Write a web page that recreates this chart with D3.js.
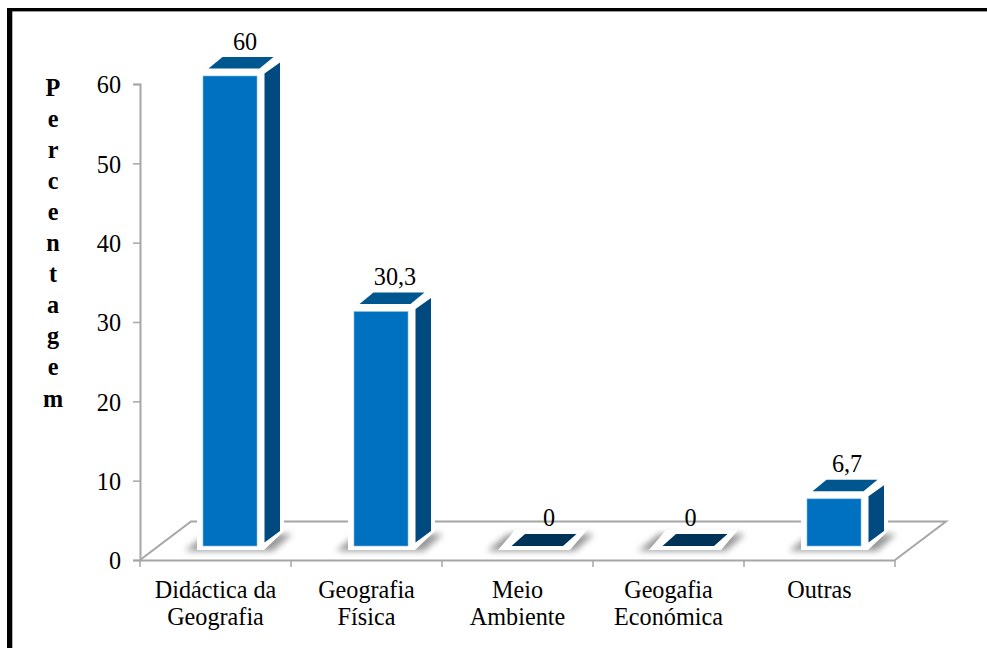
<!DOCTYPE html>
<html>
<head>
<meta charset="utf-8">
<script src="https://cdn.jsdelivr.net/npm/d3@7"></script>
<style>
html,body{margin:0;padding:0;background:#fff;}
svg{display:block;}
text{font-family:"Liberation Serif","Times New Roman",serif;fill:#000;}
</style>
</head>
<body>
<script>
// Survey shares by area of study
const categories = [["Didáctica da","Geografia"],["Geografia","Física"],["Meio","Ambiente"],["Geogafia","Económica"],["Outras"]];
const values = [60, 30.3, 0, 0, 6.7];
const valueLabels = ["60","30,3","0","0","6,7"];
const yTicks = [0,10,20,30,40,50,60];
const yTitle = "Percentagem".split("");

// Horizontal nudges keeping each value label clear of its bar
const labelShift = [1, 0, 3, -6.5, -1];

const width = 987, height = 648;
const fontSize = 24.2;
const svg = d3.select("body").append("svg").attr("width", width).attr("height", height);

const x = d3.scaleBand().domain(d3.range(categories.length)).range([140, 895]);
const y = d3.scaleLinear().domain([0, 60]).range([560, 84]);

const defs = svg.append("defs");
defs.append("filter").attr("id","soft").attr("x","-30%").attr("y","-80%").attr("width","160%").attr("height","260%")
  .append("feGaussianBlur").attr("stdDeviation", 3.4);

const grey = "#a6a6a6";
const frontFill = "#0070c0", sideFill = "#004a7f", topFill = "#00568f", flatFill = "#003358", edgeStroke = "#7fb8e0";

// Frame: heavier on the left than along the top
svg.append("rect").attr("x",7).attr("y",8).attr("width",width-7).attr("height",3.4).attr("fill","#000");
svg.append("rect").attr("x",7).attr("y",8).attr("width",5.3).attr("height",height-8).attr("fill","#000");

// Floor of the plot
const depthX = 51, depthY = 38.5;
const floorBackY = y(0) - depthY;
svg.append("path")
  .attr("d", `M${x.range()[0]},${y(0)}L${x.range()[0]+depthX},${floorBackY}H${x.range()[1]+depthX}L${x.range()[1]},${y(0)}`)
  .attr("fill","#fff").attr("stroke",grey).attr("stroke-width",2);

// Axes
const yAxis = d3.axisLeft(y).tickValues(yTicks).tickSize(7).tickPadding(12);
const gy = svg.append("g").attr("transform",`translate(${x.range()[0]},0)`).call(yAxis);
const xAxis = d3.axisBottom(x).tickSize(0).tickFormat("");
const gx = svg.append("g").attr("transform",`translate(0,${y(0)})`).call(xAxis);
gx.selectAll(".tick").remove();
[gy, gx].forEach(g => { g.select(".domain").attr("stroke",grey).attr("stroke-width",2);
  g.selectAll(".tick line").attr("stroke",grey).attr("stroke-width",1.5); });
gy.selectAll(".tick text").attr("font-size",fontSize).attr("fill","#000").attr("y",1)
  .style("font-family",'"Liberation Serif",serif');

// Category boundary ticks along the front edge
svg.append("g").selectAll("line").data(d3.range(categories.length + 1)).join("line")
  .attr("x1", i => x.range()[0] + i * x.bandwidth()).attr("x2", i => x.range()[0] + i * x.bandwidth())
  .attr("y1", y(0)).attr("y2", y(0) + 7).attr("stroke",grey).attr("stroke-width",1.5);

// Bars
const halfW = 27, base = y(0) - 14;
const bars = svg.append("g").selectAll("g").data(values).join("g")
  .attr("transform",(d,i)=>`translate(${x(i)+x.bandwidth()/2+14.5},0)`);

// Contact shadow on the floor
bars.append("path").attr("fill","#808080").attr("opacity",0.8).attr("filter","url(#soft)")
  .attr("d",`M${-halfW-18},${base+5}L${-halfW+3},${base-12}H${halfW+35}L${halfW+16},${base+5}Z`);

bars.each(function(d){
  const g = d3.select(this);
  if (d === 0) {
    // A zero bar collapses to a flat plate on the floor
    g.append("path").attr("fill","#fff")
      .attr("d",`M${-halfW-7},${base+4}L${-halfW+10},${base-16}H${halfW+28}L${halfW+11},${base+4}Z`);
    g.append("path").attr("fill",flatFill)
      .attr("d",`M${-halfW+6.5},${base}L${-halfW+20},${base-12}H${halfW+17.5}L${halfW+4},${base}Z`);
    return;
  }
  const t = y(d) - 8;
  // White bevel behind the faces
  g.append("path").attr("fill","#fff")
    .attr("d",`M${-halfW-6},${base+4}V${t-10}L${-halfW+18},${t-22}H${halfW+27}V${base-15}L${halfW+7},${base+4}Z`);
  g.append("path").attr("fill",topFill)
    .attr("d",`M${-halfW+5.5},${t-7.5}L${-halfW+19.5},${t-19}H${halfW+16.5}L${halfW+2.5},${t-7.5}Z`);
  g.append("path").attr("fill",sideFill)
    .attr("d",`M${halfW+7.5},${t-2.5}L${halfW+23},${t-13.5}V${base-15}L${halfW+7.5},${base-3.5}Z`);
  g.append("rect").attr("x",-halfW).attr("width",halfW*2).attr("y",t).attr("height",base-t)
    .attr("fill",frontFill).attr("stroke",edgeStroke).attr("stroke-width",0.6);
});

// Value labels
svg.append("g").selectAll("text").data(valueLabels).join("text")
  .attr("x",(d,i)=>x(i)+x.bandwidth()/2+28.5+labelShift[i])
  .attr("y",(d,i)=>y(values[i])-34.5)
  .attr("text-anchor","middle").attr("font-size",fontSize).text(d=>d);

// Category labels
const cat = svg.append("g").selectAll("text").data(categories).join("text")
  .attr("text-anchor","middle").attr("font-size",fontSize);
cat.selectAll("tspan").data((d,i)=>d.map(s=>({s,i}))).join("tspan")
  .attr("x",d=>x(d.i)+x.bandwidth()/2)
  .attr("y",(d,j)=>598+j*27)
  .text(d=>d.s);

// Stacked axis title
svg.append("g").selectAll("text").data(yTitle).join("text")
  .attr("x",53).attr("y",(d,i)=>95.5+i*31.1)
  .attr("text-anchor","middle").attr("font-size",fontSize).attr("font-weight","bold")
  .text(d=>d);
</script>
</body>
</html>
